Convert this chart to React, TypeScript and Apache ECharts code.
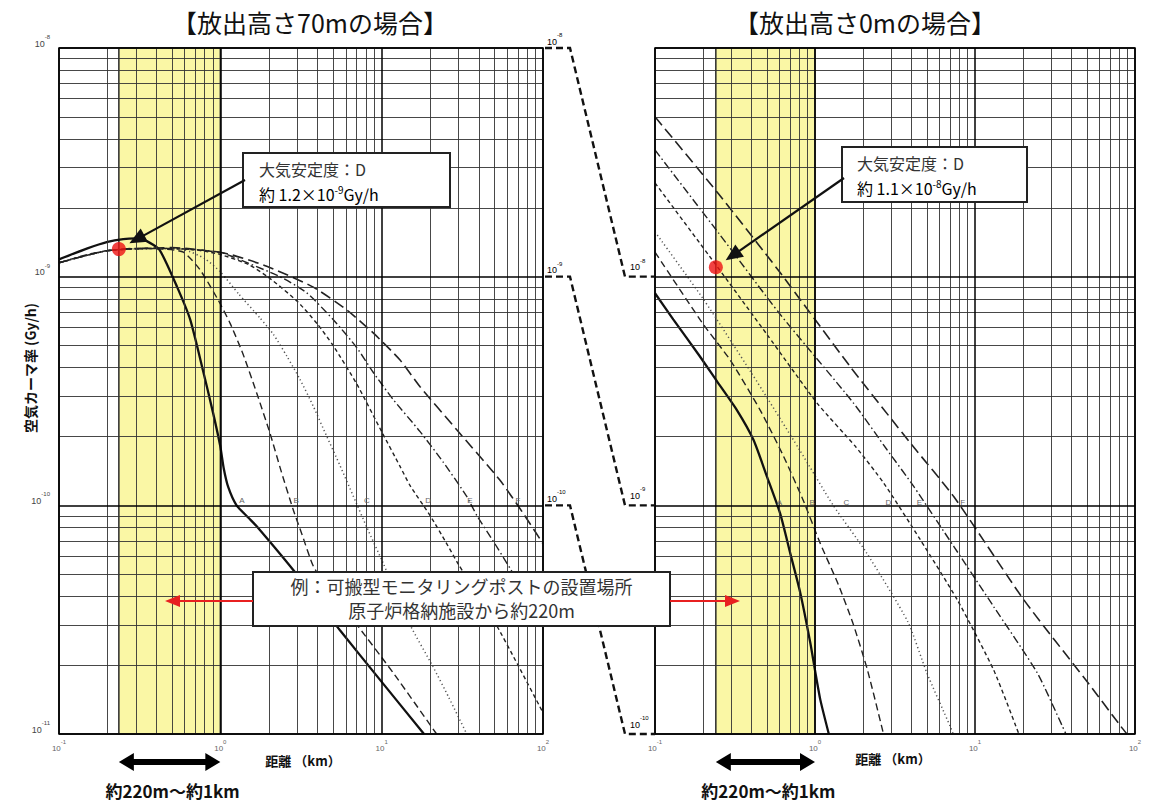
import React, { useEffect, useRef } from "react";
import * as echarts from "echarts";

// ---------------- data ----------------
const CLASS_NAMES = ["A", "B", "C", "D", "E", "F"];

// Left chart: release height 70 m  (distance km, air kerma rate Gy/h)
const L_A_X = [0.1, 0.15, 0.2, 0.25, 0.3, 0.35, 0.42, 0.54, 0.65, 0.78, 0.9, 1.0, 1.05, 1.12, 1.26, 1.5, 1.68, 2.84, 5.5, 9.8, 18.3];
const L_A_Y = [1.19e-9, 1.33e-9, 1.42e-9, 1.46e-9, 1.47e-9, 1.43e-9, 1.31e-9, 9.0e-10, 6.5e-10, 3.9e-10, 2.55e-10, 1.81e-10, 1.45e-10, 1.2e-10, 1.0e-10, 8.8e-11, 8.1e-11, 5.2e-11, 2.85e-11, 1.72e-11, 1.0e-11];
const L_B_X = [0.1, 0.15, 0.2, 0.3, 0.45, 0.59, 0.75, 0.97, 1.15, 1.38, 1.68, 2.03, 2.39, 2.84, 3.2, 3.78, 5.0, 6.66, 11.8, 21.9];
const L_B_Y = [1.15e-9, 1.25e-9, 1.3e-9, 1.33e-9, 1.32e-9, 1.28e-9, 1.07e-9, 7.9e-10, 6.25e-10, 4.6e-10, 3.1e-10, 2.07e-10, 1.4e-10, 9.5e-11, 7.5e-11, 5.4e-11, 4.0e-11, 3.15e-11, 1.85e-11, 1.0e-11];
const L_C_X = [0.1, 0.2, 0.4, 0.6, 0.8, 1.0, 1.3, 1.76, 2.13, 2.58, 3.12, 3.78, 4.57, 5.5, 6.66, 8.1, 10.2, 15, 20.8, 26, 33.7];
const L_C_Y = [1.15e-9, 1.3e-9, 1.33e-9, 1.31e-9, 1.2e-9, 1.05e-9, 8.4e-10, 6.6e-10, 5.6e-10, 4.5e-10, 3.55e-10, 2.7e-10, 2.0e-10, 1.5e-10, 1.1e-10, 8.0e-11, 5.6e-11, 3.0e-11, 1.97e-11, 1.45e-11, 1.0e-11];
const L_D_X = [0.1, 0.2, 0.4, 0.7, 1.0, 1.5, 2.0, 3.0, 4.0, 5.0, 7.0, 10, 13, 15, 20, 25, 30, 50, 70, 100];
const L_D_Y = [1.15e-9, 1.3e-9, 1.33e-9, 1.31e-9, 1.25e-9, 1.13e-9, 9.9e-10, 7.8e-10, 6.2e-10, 5.0e-10, 3.4e-10, 2.1e-10, 1.48e-10, 1.22e-10, 9.0e-11, 6.9e-11, 5.5e-11, 3.1e-11, 2.0e-11, 1.24e-11];
const L_E_X = [0.1, 0.2, 0.5, 1.0, 1.2, 2.34, 3.43, 5.0, 7.0, 8.9, 11.8, 17.3, 24, 33.5, 39, 49, 62.5, 80, 100];
const L_E_Y = [1.15e-9, 1.3e-9, 1.33e-9, 1.28e-9, 1.22e-9, 1.0e-9, 8.5e-10, 6.5e-10, 4.9e-10, 3.8e-10, 2.9e-10, 2.1e-10, 1.55e-10, 1.1e-10, 9.0e-11, 7.0e-11, 5.3e-11, 4.0e-11, 3.1e-11];
const L_F_X = [0.1, 0.2, 0.5, 1.1, 1.94, 3.77, 6.08, 8.9, 13, 17.3, 29.2, 54, 75.6, 100];
const L_F_Y = [1.15e-9, 1.3e-9, 1.34e-9, 1.26e-9, 1.11e-9, 9.0e-10, 7.15e-10, 5.66e-10, 4.32e-10, 3.3e-10, 2.14e-10, 1.29e-10, 9.2e-11, 6.8e-11];

// Right chart: release height 0 m
const R_A_X = [0.1, 0.13, 0.19, 0.243, 0.325, 0.413, 0.5, 0.606, 0.7, 0.81, 0.935, 1.0, 1.08, 1.22];
const R_A_Y = [8.46e-9, 6.5e-9, 4.5e-9, 3.5e-9, 2.61e-9, 1.93e-9, 1.34e-9, 9.2e-10, 6.18e-10, 4.13e-10, 2.5e-10, 1.9e-10, 1.41e-10, 1.0e-10];
const R_B_X = [0.1, 0.2, 0.295, 0.454, 0.633, 0.845, 1.08, 1.4, 1.74, 2.13, 2.68];
const R_B_Y = [1.28e-8, 6.2e-9, 4.32e-9, 2.61e-9, 1.65e-9, 1.05e-9, 6.8e-10, 4.5e-10, 3.0e-10, 1.9e-10, 1.0e-10];
const R_C_X = [0.1, 0.2, 0.4, 0.8, 1.3, 2.1, 3.8, 5.0, 7.0, 7.3];
const R_C_Y = [1.57e-8, 8.0e-9, 3.8e-9, 1.75e-9, 1.0e-9, 6.2e-10, 3.1e-10, 1.85e-10, 1.08e-10, 1.0e-10];
const R_D_X = [0.1, 0.244, 0.5, 1.03, 1.8, 2.69, 4.56, 7.75, 13.1, 18.8];
const R_D_Y = [2.57e-8, 1.11e-8, 5.6e-9, 2.8e-9, 1.8e-9, 1.25e-9, 7.06e-10, 3.86e-10, 1.9e-10, 1.0e-10];
const R_E_X = [0.1, 0.25, 0.6, 1.74, 2.82, 4.14, 7.38, 13.1, 24.5, 35.2, 37];
const R_E_Y = [3.58e-8, 1.55e-8, 6.9e-9, 2.8e-9, 1.75e-9, 1.21e-9, 6.6e-10, 3.6e-10, 1.85e-10, 1.08e-10, 1.0e-10];
const R_F_X = [0.1, 0.25, 0.6, 1.66, 4.0, 7.38, 20.2, 50, 81.6, 89];
const R_F_Y = [5.0e-8, 2.3e-8, 1.05e-8, 4.04e-9, 1.85e-9, 1.09e-9, 3.86e-10, 1.7e-10, 1.08e-10, 1.0e-10];

const X_RANGE = [0.1, 100];
const LEFT_Y_RANGE = [1e-11, 1e-8];
const RIGHT_Y_RANGE = [1e-10, 1e-7];
const MINOR_STEPS = [2, 3, 4, 5, 6, 7, 8, 9];
const CONNECTOR_VALUES = [1e-8, 1e-9, 1e-10];

const BAND_L = [0.235, 1.0];
const BAND_R = [0.24, 1.0];
const POINT_L = [0.235, 1.32e-9];
const POINT_R = [0.24, 1.1e-8];

const LABEL_L_X = [1.36, 2.95, 8.1, 19.4, 35.2, 70];
const LABEL_L_Y = 1.05e-10;
const LABEL_R_X = [0.6, 0.96, 1.57, 2.88, 4.49, 8.37];
const LABEL_R_Y = 1.03e-9;

const TITLE_L = "【放出高さ70mの場合】";
const TITLE_R = "【放出高さ0mの場合】";
const Y_TITLE = "空気カーマ率 (Gy/h)";
const X_TITLE = "距離 （km）";
const RANGE_TEXT = "約220m～約1km";
const NOTE_L = ["大気安定度：D", "約 1.2×10", "-9", "Gy/h"];
const NOTE_R = ["大気安定度：D", "約 1.1×10", "-8", "Gy/h"];
const EXAMPLE_LINES = ["例：可搬型モニタリングポストの設置場所", "原子炉格納施設から約220m"];

// ---------------- styling ----------------
const FONT = "'Noto Sans CJK JP', 'Noto Sans', sans-serif";
const NUM_FONT = "'Liberation Sans', 'DejaVu Sans', sans-serif";
const CURVE_STYLES: any[] = [
  { color: "#111", width: 2.3, type: "solid" },
  { color: "#222", width: 1.4, type: [7, 4] },
  { color: "#555", width: 1.5, type: [1.2, 2.8] },
  { color: "#222", width: 1.4, type: [4, 3] },
  { color: "#222", width: 1.4, type: [8, 3, 1.5, 3] },
  { color: "#222", width: 1.6, type: [11, 5] },
];

const supRich = (base: number, sup: number, color: string) => ({
  b: { fontSize: base, lineHeight: base + 5, verticalAlign: "bottom", color, fontFamily: NUM_FONT },
  s: { fontSize: sup, lineHeight: base + 5, verticalAlign: "top", color, fontFamily: NUM_FONT },
});
const expLabel = (v: number) => `{b|10}{s|${Math.round(Math.log10(v))}}`;

const decadesBetween = (lo: number, hi: number) => {
  const out: number[] = [];
  for (let e = Math.round(Math.log10(lo)); e <= Math.round(Math.log10(hi)); e++) out.push(Math.pow(10, e));
  return out;
};
const minorsBetween = (lo: number, hi: number) => {
  const out: number[] = [];
  decadesBetween(lo, hi).slice(0, -1).forEach((d) => MINOR_STEPS.forEach((k) => out.push(d * k)));
  return out;
};

function gridSeries(g: number, yRange: number[]) {
  const vLine = (v: number) => [{ coord: [v, yRange[0]] }, { coord: [v, yRange[1]] }];
  const hLine = (v: number) => [{ coord: [X_RANGE[0], v] }, { coord: [X_RANGE[1], v] }];
  const mk = (items: any[], color: string, width: number, z: number) => ({
    type: "line",
    xAxisIndex: g,
    yAxisIndex: g,
    data: [],
    silent: true,
    z,
    markLine: {
      silent: true,
      symbol: ["none", "none"],
      label: { show: false },
      emphasis: { disabled: true },
      lineStyle: { color, width, type: "solid" },
      data: items,
    },
  });
  const minor = [
    ...minorsBetween(X_RANGE[0], X_RANGE[1]).map(vLine),
    ...minorsBetween(yRange[0], yRange[1]).map(hLine),
  ];
  const major = [
    ...decadesBetween(X_RANGE[0], X_RANGE[1]).map(vLine),
    ...decadesBetween(yRange[0], yRange[1]).map(hLine),
  ];
  return [mk(minor, "#333", 0.9, 1), mk(major, "#000", 1.5, 2)];
}

function curveSeries(g: number, xs: number[][], ys: number[][]) {
  return xs.map((xArr, i) => ({
    type: "line",
    name: `${g}-${CLASS_NAMES[i]}`,
    xAxisIndex: g,
    yAxisIndex: g,
    data: xArr.map((x, j) => [x, ys[i][j]]),
    symbol: "none",
    showSymbol: false,
    smooth: 0.2,
    silent: true,
    z: 3,
    lineStyle: CURVE_STYLES[i],
  }));
}

function bandSeries(g: number, band: number[]) {
  return {
    type: "line",
    xAxisIndex: g,
    yAxisIndex: g,
    data: [],
    silent: true,
    z: 5,
    markArea: {
      silent: true,
      itemStyle: { color: "rgba(242,235,40,0.42)", borderColor: "#2a2a2a", borderWidth: 1.5 },
      data: [[{ xAxis: band[0] }, { xAxis: band[1] }]],
    },
  };
}

function pointSeries(g: number, p: number[]) {
  return {
    type: "scatter",
    xAxisIndex: g,
    yAxisIndex: g,
    data: [p],
    symbolSize: 14,
    silent: true,
    z: 10,
    itemStyle: { color: "#ee1111" },
  };
}

function xAxisDef(g: number) {
  return {
    type: "log",
    logBase: 10,
    gridIndex: g,
    min: X_RANGE[0],
    max: X_RANGE[1],
    axisLine: { show: false },
    axisTick: { show: false },
    splitLine: { show: false },
    axisLabel: { formatter: expLabel, margin: 5, rich: supRich(8, 6, "#666") },
  };
}

function buildOption() {
  return {
    animation: false,
    backgroundColor: "#fff",
    grid: [
      { left: 59, top: 48, width: 484, height: 686, show: true, borderColor: "#000", borderWidth: 1.5, backgroundColor: "transparent", outerBoundsMode: "none", containLabel: false },
      { left: 655, top: 48, width: 480, height: 686, show: true, borderColor: "#000", borderWidth: 1.5, backgroundColor: "transparent", outerBoundsMode: "none", containLabel: false },
    ],
    xAxis: [xAxisDef(0), xAxisDef(1)],
    yAxis: [
      {
        type: "log",
        logBase: 10,
        gridIndex: 0,
        min: LEFT_Y_RANGE[0],
        max: LEFT_Y_RANGE[1],
        axisLine: { show: false },
        axisTick: { show: false },
        splitLine: { show: false },
        axisLabel: { formatter: expLabel, margin: 9, verticalAlign: "bottom", rich: supRich(9, 6, "#444") },
      },
      {
        type: "log",
        logBase: 10,
        gridIndex: 1,
        min: RIGHT_Y_RANGE[0],
        max: RIGHT_Y_RANGE[1],
        axisLine: { show: false },
        axisTick: { show: false },
        splitLine: { show: false },
        axisLabel: { show: false },
      },
    ],
    series: [
      ...gridSeries(0, LEFT_Y_RANGE),
      ...gridSeries(1, RIGHT_Y_RANGE),
      ...curveSeries(0, [L_A_X, L_B_X, L_C_X, L_D_X, L_E_X, L_F_X], [L_A_Y, L_B_Y, L_C_Y, L_D_Y, L_E_Y, L_F_Y]),
      ...curveSeries(1, [R_A_X, R_B_X, R_C_X, R_D_X, R_E_X, R_F_X], [R_A_Y, R_B_Y, R_C_Y, R_D_Y, R_E_Y, R_F_Y]),
      bandSeries(0, BAND_L),
      bandSeries(1, BAND_R),
      pointSeries(0, POINT_L),
      pointSeries(1, POINT_R),
    ],
  };
}

// ---------------- graphics helpers ----------------
function text(x: number, y: number, str: string, opts: any = {}) {
  const { align = "left", vAlign = "middle", rotation = 0, z = 100, ...style } = opts;
  return {
    type: "text",
    x,
    y,
    rotation,
    z,
    silent: true,
    style: { text: str, align, textAlign: align, verticalAlign: vAlign, textVerticalAlign: vAlign, fontFamily: FONT, ...style },
  };
}

function arrow(x0: number, y0: number, x1: number, y1: number, color: string, width: number, headLen: number, headHalf: number) {
  const dx = x1 - x0;
  const dy = y1 - y0;
  const len = Math.hypot(dx, dy);
  const ux = dx / len;
  const uy = dy / len;
  const bx = x1 - ux * headLen;
  const by = y1 - uy * headLen;
  const px = -uy;
  const py = ux;
  return [
    { type: "line", z: 100, silent: true, shape: { x1: x0, y1: y0, x2: bx + ux * 2, y2: by + uy * 2 }, style: { stroke: color, lineWidth: width } },
    {
      type: "polygon",
      z: 100,
      silent: true,
      shape: { points: [[x1, y1], [bx + px * headHalf, by + py * headHalf], [bx - px * headHalf, by - py * headHalf]] },
      style: { fill: color },
    },
  ];
}

function doubleArrow(xa: number, xb: number, y: number) {
  const h = 15;
  const H = 9;
  const t = 3;
  return {
    type: "polygon",
    z: 100,
    silent: true,
    shape: {
      points: [
        [xa, y], [xa + h, y - H], [xa + h, y - t], [xb - h, y - t], [xb - h, y - H],
        [xb, y], [xb - h, y + H], [xb - h, y + t], [xa + h, y + t], [xa + h, y + H],
      ],
    },
    style: { fill: "#000" },
  };
}

function noteBox(x: number, y: number, w: number, h: number, note: string[], tx: number, ty1: number, ty2: number) {
  const rich = {
    n: { fontSize: 16, fontFamily: FONT, color: "#333", lineHeight: 17, verticalAlign: "bottom" },
    s: { fontSize: 10, fontFamily: FONT, color: "#333", lineHeight: 17, verticalAlign: "top" },
  };
  return [
    { type: "rect", z: 99, silent: true, shape: { x, y, width: w, height: h }, style: { fill: "#fff", stroke: "#222", lineWidth: 2 } },
    text(tx, ty1, note[0], { fontSize: 16, fill: "#333" }),
    text(tx, ty2, `{n|${note[1]}}{s|${note[2]}}{n|${note[3]}}`, { rich }),
  ];
}

function buildGraphics(chart: any) {
  const px = (g: number, x: number, y: number) => chart.convertToPixel({ gridIndex: g }, [x, y]) as number[];
  const els: any[] = [];

  // titles
  els.push(text(310, 22, TITLE_L, { align: "center", fontSize: 25, fill: "#111" }));
  els.push(text(865, 22, TITLE_R, { align: "center", fontSize: 25, fill: "#111" }));

  // y axis title
  els.push(text(30, 368, Y_TITLE, { align: "center", rotation: Math.PI / 2, fontSize: 14, fontWeight: "bold", fill: "#111" }));

  // x axis titles
  els.push(text(303, 760, X_TITLE, { align: "center", fontSize: 13, fontWeight: "bold", fill: "#111" }));
  els.push(text(893, 758, X_TITLE, { align: "center", fontSize: 13, fontWeight: "bold", fill: "#111" }));

  // connectors between the two y scales
  const supR = supRich(9, 6, "#333");
  CONNECTOR_VALUES.forEach((v) => {
    const [xe, yl] = px(0, X_RANGE[1], v);
    const [xs, yr] = px(1, X_RANGE[0], v);
    els.push({
      type: "polyline",
      z: 50,
      silent: true,
      shape: { points: [[xe + 2, yl], [xe + 27, yl], [xs - 30, yr], [xs, yr]] },
      style: { stroke: "#111", lineWidth: 2.4, lineDash: [7, 4], fill: null },
    });
    els.push(text(xe + 4, yl - 9, expLabel(v), { rich: supR }));
    els.push(text(xs - 25, yr - 12, expLabel(v), { rich: supR }));
  });

  // stability class labels
  CLASS_NAMES.forEach((c, i) => {
    const [lx, ly] = px(0, LABEL_L_X[i], LABEL_L_Y);
    els.push(text(lx, ly, c, { align: "center", fontSize: 8, fill: "#666", fontFamily: NUM_FONT }));
    const [rx, ry] = px(1, LABEL_R_X[i], LABEL_R_Y);
    els.push(text(rx, ry, c, { align: "center", fontSize: 8, fill: "#666", fontFamily: NUM_FONT }));
  });

  // annotation boxes + arrows to red points
  els.push(...noteBox(243, 153, 207, 54, NOTE_L, 259, 169, 193));
  els.push(...noteBox(842, 147, 185, 55, NOTE_R, 857, 163, 187));
  const pointArrow = (g: number, p: number[], sx: number, sy: number) => {
    const [cx, cy] = px(g, p[0], p[1]);
    const dx = sx - cx;
    const dy = sy - cy;
    const l = Math.hypot(dx, dy);
    return arrow(sx, sy, cx + (dx / l) * 12, cy + (dy / l) * 12, "#111", 2.2, 17, 7.5);
  };
  els.push(...pointArrow(0, POINT_L, 245, 180));
  els.push(...pointArrow(1, POINT_R, 844, 178));

  // example box with red arrows
  els.push({ type: "rect", z: 99, silent: true, shape: { x: 253, y: 572, width: 417, height: 54 }, style: { fill: "#fff", stroke: "#222", lineWidth: 2 } });
  els.push(text(461.5, 586, EXAMPLE_LINES[0], { align: "center", fontSize: 18, fill: "#333" }));
  els.push(text(461.5, 610, EXAMPLE_LINES[1], { align: "center", fontSize: 18, fill: "#333" }));
  els.push(...arrow(253, 601, 165, 601, "#e82020", 2, 15, 6));
  els.push(...arrow(670, 601, 740, 601, "#e82020", 2, 15, 6));

  // double arrows for the band ranges
  [[0, BAND_L], [1, BAND_R]].forEach(([g, band]: any) => {
    const xa = px(g, band[0], 1e-10)[0];
    const xb = px(g, band[1], 1e-10)[0];
    els.push(doubleArrow(xa, xb, 762));
    els.push(text((xa + xb) / 2 + 3, 790, RANGE_TEXT, { align: "center", fontSize: 17, fontWeight: "bold", fill: "#111" }));
  });

  return els;
}

export default function App() {
  const ref = useRef<HTMLDivElement>(null);
  useEffect(() => {
    const chart = echarts.init(ref.current as HTMLDivElement, null, { renderer: "svg" });
    chart.setOption(buildOption() as any);
    chart.setOption({ graphic: buildGraphics(chart) } as any);
    return () => chart.dispose();
  }, []);
  return (
    <div
      ref={ref}
      style={{ position: "absolute", left: 0, top: 0, width: 1151, height: 801, background: "#fff" }}
    />
  );
}
